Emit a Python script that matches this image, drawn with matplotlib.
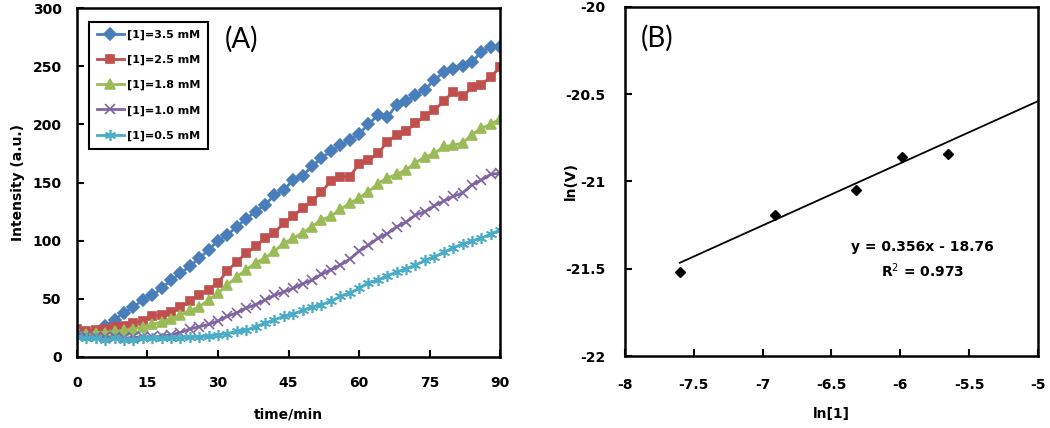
import matplotlib
matplotlib.use("Agg")
import matplotlib.pyplot as plt
import numpy as np

plt.rcParams["font.family"] = ["DejaVu Sans"]

BLUE   = "#4A7EBB"
RED    = "#C0504D"
GREEN  = "#9BBB59"
PURPLE = "#8064A2"
CYAN   = "#4BACC6"

# ── panel (A): intensity vs time ───────────────────────────────────
time_min = np.arange(0, 91, 2)

int_35 = [22, 20, 21, 27, 32, 38, 43, 49, 53, 59, 66, 72, 78, 85, 92, 100,
          105, 112, 119, 125, 131, 139, 144, 152, 156, 164, 171, 177, 182, 187,
          192, 200, 208, 206, 217, 220, 225, 230, 238, 245, 248, 250, 254, 262,
          267, 267]
int_25 = [24, 22, 23, 24, 26, 27, 29, 31, 35, 36, 39, 43, 48, 53, 58, 64,
          74, 82, 89, 95, 102, 107, 115, 121, 128, 134, 142, 151, 155, 155,
          166, 169, 175, 185, 191, 194, 201, 207, 212, 220, 228, 224, 232, 234,
          241, 249]
int_18 = [22, 20, 21, 21, 22, 23, 24, 26, 28, 30, 33, 36, 40, 43, 49, 55,
          62, 69, 75, 81, 85, 91, 98, 102, 107, 112, 118, 121, 127, 132,
          137, 142, 149, 154, 157, 161, 167, 172, 175, 181, 182, 184, 191, 197,
          200, 205]
int_10 = [20, 18, 17, 17, 17, 16, 17, 17, 17, 18, 19, 21, 24, 26, 28, 31,
          35, 38, 42, 45, 49, 53, 56, 59, 63, 66, 71, 75, 79, 84,
          91, 96, 102, 106, 112, 116, 122, 125, 130, 134, 138, 141, 148, 152,
          157, 158]
int_05 = [17, 16, 16, 15, 16, 15, 15, 16, 16, 16, 16, 16, 17, 17, 18, 19,
          20, 22, 23, 26, 29, 32, 35, 37, 40, 43, 45, 48, 52, 55,
          59, 64, 66, 70, 73, 76, 79, 83, 86, 90, 94, 97, 100, 102,
          106, 109]

series_a = [
    (int_35, "[1]=3.5 mM", BLUE,   "D",       6.0),
    (int_25, "[1]=2.5 mM", RED,    "s",       5.5),
    (int_18, "[1]=1.8 mM", GREEN,  "^",       7.0),
    (int_10, "[1]=1.0 mM", PURPLE, "x",       6.5),
    (int_05, "[1]=0.5 mM", CYAN,   (6, 2, 0), 8.0),
]

# ── panel (B): ln(V) vs ln[1] ──────────────────────────────────────
ln_conc = [-7.60, -6.91, -6.32, -5.99, -5.65]
ln_rate = [-21.52, -21.19, -21.05, -20.86, -20.84]
fit_slope, fit_icpt = 0.356, -18.76
fit_x = [-7.6, -5.0]


def style_ax(ax, xpad, ypad):
    for sp in ax.spines.values():
        sp.set_linewidth(1.8)
        sp.set_color("black")
    ax.tick_params(direction="in", length=5, width=1.5, labelsize=10)
    ax.tick_params(axis="x", pad=xpad)
    ax.tick_params(axis="y", pad=ypad)
    for lbl in ax.get_xticklabels() + ax.get_yticklabels():
        lbl.set_fontweight("bold")


fig = plt.figure(figsize=(10.5, 4.28), dpi=100)
ax1 = fig.add_axes([0.0733, 0.166, 0.403, 0.815])
ax2 = fig.add_axes([0.595, 0.168, 0.3936, 0.816])

for vals, label, color, mk, ms in series_a:
    ax1.plot(time_min, vals, color=color, linewidth=2.0, marker=mk,
             markersize=ms, markeredgewidth=1.2, label=label)

ax1.set_xlim(0, 90)
ax1.set_ylim(0, 300)
ax1.set_xticks(np.arange(0, 91, 15))
ax1.set_yticks(np.arange(0, 301, 50))
style_ax(ax1, xpad=14, ypad=11)
ax1.set_xlabel("time/min", fontsize=10, fontweight="bold")
ax1.xaxis.set_label_coords(0.5, -0.145)
ax1.set_ylabel("Intensity (a.u.)", fontsize=10, fontweight="bold")
ax1.yaxis.set_label_coords(-0.123, 0.5)
ax1.text(0.388, 0.91, "(A)", transform=ax1.transAxes, fontsize=20,
         family="Lato", ha="center", va="center")

leg = ax1.legend(loc="upper left", bbox_to_anchor=(0.029, 0.961),
                 borderaxespad=0, fancybox=False, edgecolor="black",
                 framealpha=1, handlelength=2.4, labelspacing=1.35,
                 handletextpad=0.3, borderpad=0.7,
                 prop={"weight": "bold", "size": 8})
leg.get_frame().set_linewidth(1.5)

ax2.plot(ln_conc, ln_rate, linestyle="none", marker="D", color="black",
         markersize=5.5)
ax2.plot(fit_x, [fit_slope * x + fit_icpt for x in fit_x], color="black",
         linewidth=1.3)
ax2.set_xlim(-8, -5)
ax2.set_ylim(-22, -20)
ax2.set_xticks([-8, -7.5, -7, -6.5, -6, -5.5, -5])
ax2.set_xticklabels(["-8", "-7.5", "-7", "-6.5", "-6", "-5.5", "-5"])
ax2.set_yticks([-22, -21.5, -21, -20.5, -20])
ax2.set_yticklabels(["-22", "-21.5", "-21", "-20.5", "-20"])
style_ax(ax2, xpad=16, ypad=14)
ax2.set_xlabel("ln[1]", fontsize=10, fontweight="bold")
ax2.xaxis.set_label_coords(0.5, -0.145)
ax2.set_ylabel("ln(V)", fontsize=10, fontweight="bold")
ax2.yaxis.set_label_coords(-0.113, 0.5)
ax2.text(0.078, 0.91, "(B)", transform=ax2.transAxes, fontsize=20,
         family="Lato", ha="center", va="center")
ax2.text(-5.84, -21.375, "y = 0.356x - 18.76", fontsize=10,
         fontweight="bold", ha="center", va="center")
ax2.text(-5.84, -21.51, "R$^{2}$ = 0.973", fontsize=10,
         fontweight="bold", ha="center", va="center")

fig.savefig("out.png", dpi=100, facecolor="white")
